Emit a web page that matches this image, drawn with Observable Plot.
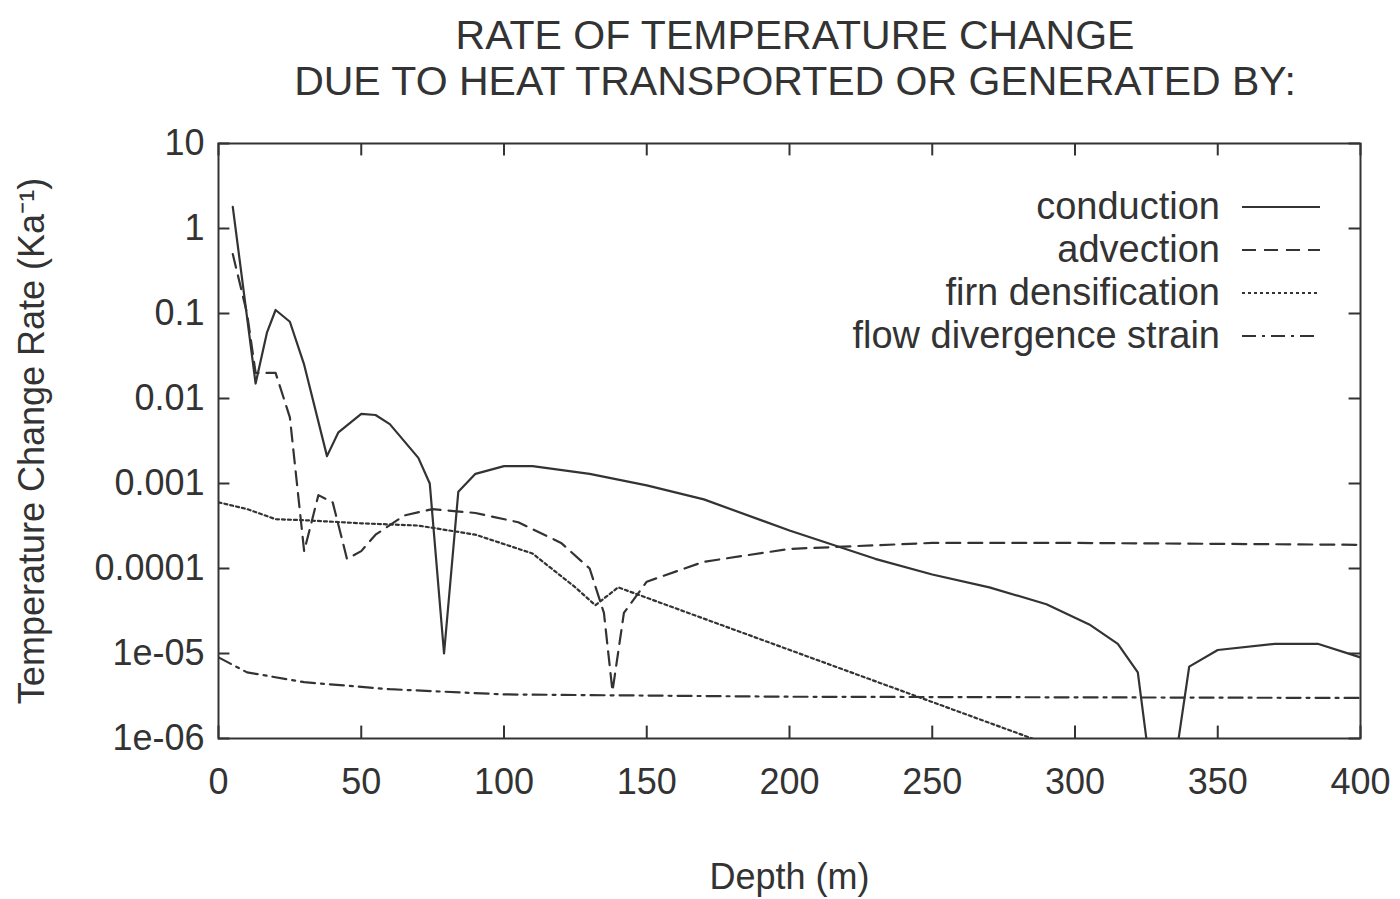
<!DOCTYPE html>
<html><head><meta charset="utf-8">
<script src="https://cdn.jsdelivr.net/npm/d3@7"></script>
<script src="https://cdn.jsdelivr.net/npm/@observablehq/plot@0.6"></script>
<style>
body{margin:0;background:#fff;font-family:"Liberation Sans",Arial,sans-serif;color:#222}
#wrap{position:relative;width:1400px;height:899px}
#title{position:absolute;top:12px;left:200px;width:1190px;text-align:center;font-size:41px;line-height:46px;color:#333}
#legend{position:absolute;top:185px;right:80px;font-size:38px;color:#333}
#legend div{display:flex;justify-content:flex-end;align-items:center;height:43px}
#legend svg{margin-left:22px}
</style></head><body>
<div id="wrap">
<div id="title">RATE OF TEMPERATURE CHANGE<br>DUE TO HEAT TRANSPORTED OR GENERATED BY:</div>
<div id="chart"></div>
<div id="legend"></div>
</div>
<script>
const seriesNames = ["conduction","advection","firn densification","flow divergence strain"];
const dashes = [null,"14,8","3,3","14,6,3,6"];
const conductionDepth = [5,13,17,20,25,30,38,42,50,55,60,70,74,79,84,90,100,110,130,150,170,200,230,250,270,290,305,315,322,327,334,340,350,370,385,400];
const conductionRate  = [1.8,0.015,0.06,0.11,0.08,0.025,0.0021,0.004,0.0066,0.0064,0.005,0.002,0.001,0.00001,0.0008,0.0013,0.0016,0.0016,0.0013,0.00095,0.00065,0.00028,0.00013,0.000085,0.00006,0.000038,0.000022,0.000013,0.000006,0.0000003,0.0000003,0.000007,0.000011,0.000013,0.000013,0.000009];
const advectionDepth = [5,10,13,20,25,30,35,40,45,50,55,65,75,90,105,120,130,135,138,142,150,170,200,250,300,400];
const advectionRate  = [0.5,0.1,0.02,0.02,0.006,0.00016,0.00073,0.0006,0.00013,0.00016,0.00025,0.00042,0.0005,0.00045,0.00035,0.0002,0.0001,0.00003,0.0000036,0.00003,0.00007,0.00012,0.00017,0.0002,0.0002,0.00019];
const firnDepth = [0,10,20,30,50,70,90,110,125,132,140,285,300];
const firnRate  = [0.0006,0.0005,0.00038,0.00037,0.00034,0.00032,0.00025,0.00015,0.00006,0.000037,0.00006,0.000001,0.0000006];
const flowDepth = [0,10,30,60,100,200,400];
const flowRate  = [0.000009,0.000006,0.0000046,0.0000038,0.0000033,0.0000031,0.000003];
const xTicks = [0,50,100,150,200,250,300,350,400];
const yTicks = [10,1,0.1,0.01,0.001,0.0001,0.00001,0.000001];
const yLabels = ["10","1","0.1","0.01","0.001","0.0001","1e-05","1e-06"];

const mk = (d,r) => d.map((x,i)=>({x,y:r[i]}));
const sets = [mk(conductionDepth,conductionRate),mk(advectionDepth,advectionRate),mk(firnDepth,firnRate),mk(flowDepth,flowRate)];
const lines = sets.map((s,i)=>Plot.line(s,{x:"x",y:"y",stroke:"#333",strokeWidth:2.2,strokeDasharray:dashes[i],clip:true}));

const chart = Plot.plot({
  width:1400,height:899,marginTop:143,marginBottom:161,marginLeft:218,marginRight:40,
  style:{fontFamily:"Liberation Sans, Arial, sans-serif",fontSize:"36px",color:"#333"},
  x:{domain:[0,400],ticks:xTicks,tickSize:0,tickPadding:30,label:"Depth (m)",labelAnchor:"center",labelOffset:150,labelArrow:"none"},
  y:{type:"log",domain:[1e-6,10],ticks:yTicks,tickFormat:(d)=>yLabels[yTicks.indexOf(d)]??"",tickSize:0,tickPadding:14,label:"Temperature Change Rate (Ka⁻¹)",labelAnchor:"center",labelOffset:200,labelArrow:"none"},
  marks:[
    Plot.frame({stroke:"#333",strokeWidth:2}),
    Plot.ruleX(xTicks,{y1:1e-6,y2:1.4e-6,stroke:"#333",strokeWidth:2}),
    Plot.ruleX(xTicks,{y1:10,y2:10/1.4,stroke:"#333",strokeWidth:2}),
    Plot.ruleY(yTicks,{x1:0,x2:4,stroke:"#333",strokeWidth:2}),
    Plot.ruleY(yTicks,{x1:396,x2:400,stroke:"#333",strokeWidth:2}),
    ...lines
  ]
});
document.getElementById("chart").appendChild(chart);

const leg = document.getElementById("legend");
seriesNames.forEach((n,i)=>{
  const row=document.createElement("div");
  row.innerHTML=`<span>${n}</span><svg width="78" height="10"><line x1="0" x2="78" y1="5" y2="5" stroke="#333" stroke-width="2.2" ${dashes[i]?`stroke-dasharray="${dashes[i]}"`:""}/></svg>`;
  leg.appendChild(row);
});
</script>
</body></html>
